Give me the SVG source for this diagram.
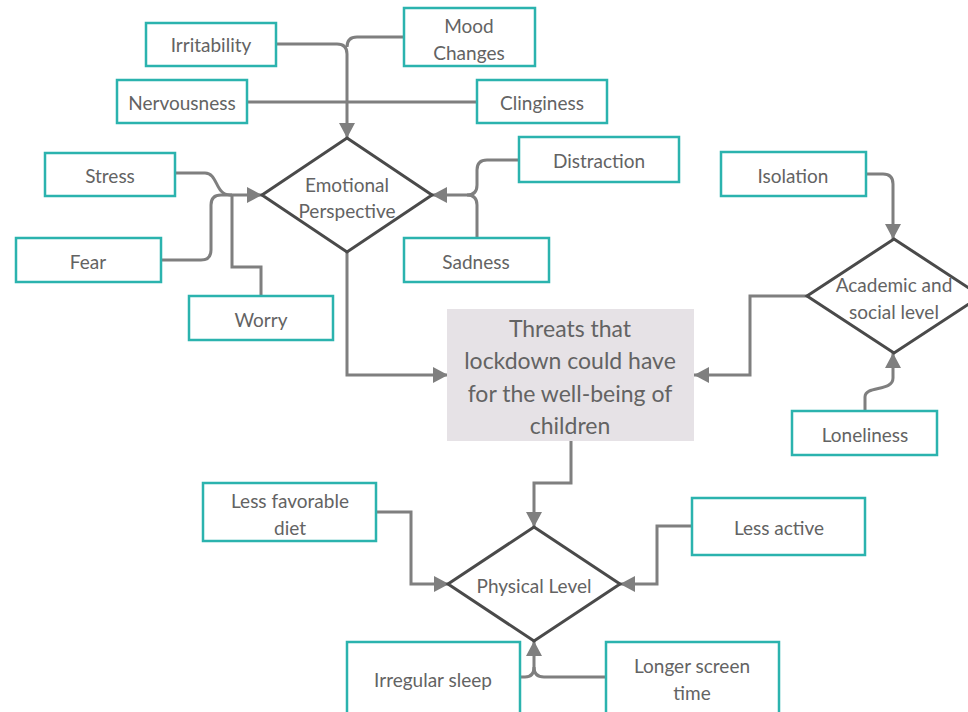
<svg xmlns="http://www.w3.org/2000/svg" width="968" height="712" viewBox="0 0 968 712">
<style>
.box{fill:#fff;stroke:#2bb3ae;stroke-width:2.5}
.dia{fill:#fff;stroke:#4a4a4a;stroke-width:3}
.main{fill:#e6e2e6;stroke:none}
.t{font-family:Lato,"Open Sans","Liberation Sans",sans-serif;font-size:19px;fill:#636363;text-anchor:middle;dominant-baseline:central}
.tm{font-size:23px}
.c{fill:none;stroke:#7f7f7f;stroke-width:3}
</style>
<defs>
<marker id="ar" markerUnits="userSpaceOnUse" markerWidth="16" markerHeight="16" refX="15" refY="8" orient="auto" viewBox="0 0 16 16">
<path d="M0,0 L15,8 L0,16 z" fill="#7f7f7f"/>
</marker>
</defs>
<rect width="968" height="712" fill="#fff"/>
<g id="connectors">
<path class="c" d="M276,44 H337 Q347,44 347,54 V138" marker-end="url(#ar)"/>
<path class="c" d="M404,37 H357 Q347,37 347,47"/>
<path class="c" d="M247,102 H477"/>
<path class="c" d="M175,173 H205 C218,173 215,195 230,195 H262" marker-end="url(#ar)"/>
<path class="c" d="M161,260 H201 Q211,260 211,250 V205 Q211,195 221,195 H232"/>
<path class="c" d="M261,296 V267 H232 V195"/>
<path class="c" d="M519,160 H487 Q477,160 477,170 V185 Q477,195 467,195 H432" marker-end="url(#ar)"/>
<path class="c" d="M477,238 V205 Q477,195 467,195"/>
<path class="c" d="M347,252 V375 H448" marker-end="url(#ar)"/>
<path class="c" d="M866,174 H883 Q893,174 893,184 V239" marker-end="url(#ar)"/>
<path class="c" d="M865,411 V397 C865,385 893,392 893,378 V353" marker-end="url(#ar)"/>
<path class="c" d="M807,296 H750 V375 H694" marker-end="url(#ar)"/>
<path class="c" d="M571,441 V483 H534 V527" marker-end="url(#ar)"/>
<path class="c" d="M376,512 H411 V584 H449" marker-end="url(#ar)"/>
<path class="c" d="M692,526 H657 V584 H620" marker-end="url(#ar)"/>
<path class="c" d="M520,677 H525 Q534,677 534,667 V641" marker-end="url(#ar)"/>
<path class="c" d="M606,677 H544 Q534,677 534,667"/>
</g>
<g id="irritability"><rect class="box" x="146" y="23" width="130" height="43"/><text class="t" x="211" y="44">Irritability</text></g>
<g id="mood-changes"><rect class="box" x="404" y="8" width="131" height="58"/><text class="t" x="469" y="25">Mood</text><text class="t" x="469" y="52">Changes</text></g>
<g id="nervousness"><rect class="box" x="117" y="80" width="130" height="43"/><text class="t" x="182" y="102">Nervousness</text></g>
<g id="clinginess"><rect class="box" x="477" y="80" width="130" height="43"/><text class="t" x="542" y="102">Clinginess</text></g>
<g id="emotional"><path class="dia" d="M347,138 L432,195 L347,252 L262,195 Z"/><text class="t" x="347" y="184">Emotional</text><text class="t" x="347" y="210">Perspective</text></g>
<g id="stress"><rect class="box" x="45" y="153" width="130" height="43"/><text class="t" x="110" y="175">Stress</text></g>
<g id="fear"><rect class="box" x="16" y="238" width="145" height="44"/><text class="t" x="88" y="261">Fear</text></g>
<g id="worry"><rect class="box" x="189" y="296" width="144" height="44"/><text class="t" x="261" y="319">Worry</text></g>
<g id="distraction"><rect class="box" x="519" y="137" width="160" height="45"/><text class="t" x="599" y="160">Distraction</text></g>
<g id="sadness"><rect class="box" x="404" y="238" width="145" height="44"/><text class="t" x="476" y="261">Sadness</text></g>
<g id="isolation"><rect class="box" x="721" y="152" width="145" height="44"/><text class="t" x="793" y="175">Isolation</text></g>
<g id="academic"><path class="dia" d="M894,239 L981,296 L894,353 L807,296 Z"/><text class="t" x="894" y="284">Academic and</text><text class="t" x="894" y="311">social level</text></g>
<g id="loneliness"><rect class="box" x="792" y="411" width="145" height="44"/><text class="t" x="865" y="434">Loneliness</text></g>
<g id="threats"><rect class="main" x="447" y="309" width="247" height="132"/><text class="t tm" x="570" y="328">Threats that</text><text class="t tm" x="570" y="360">lockdown could have</text><text class="t tm" x="570" y="393">for the well-being of</text><text class="t tm" x="570" y="425">children</text></g>
<g id="less-favorable-diet"><rect class="box" x="203" y="483" width="173" height="58"/><text class="t" x="290" y="500">Less favorable</text><text class="t" x="290" y="527">diet</text></g>
<g id="less-active"><rect class="box" x="692" y="498" width="173" height="57"/><text class="t" x="779" y="527">Less active</text></g>
<g id="physical"><path class="dia" d="M534,527 L620,584 L534,641 L448,584 Z"/><text class="t" x="534" y="585">Physical Level</text></g>
<g id="irregular-sleep"><rect class="box" x="347" y="642" width="173" height="80"/><text class="t" x="433" y="679">Irregular sleep</text></g>
<g id="longer-screen"><rect class="box" x="606" y="642" width="173" height="80"/><text class="t" x="692" y="665">Longer screen</text><text class="t" x="692" y="692">time</text></g>
</svg>
